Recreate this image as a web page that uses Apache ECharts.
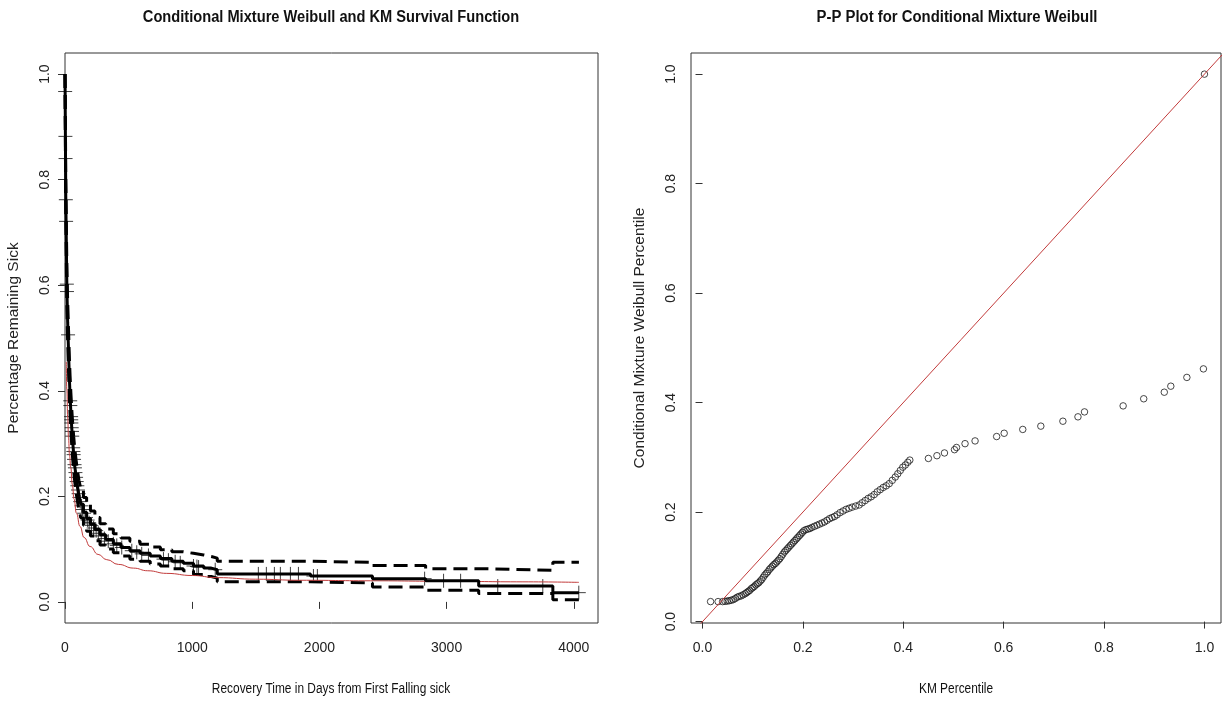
<!DOCTYPE html>
<html>
<head>
<meta charset="utf-8">
<title>Conditional Mixture Weibull</title>
<script src="https://cdn.jsdelivr.net/npm/echarts@6/dist/echarts.min.js"></script>
<style>
  html, body { margin: 0; padding: 0; background: #fff; }
  #main { width: 1226px; height: 704px; }
</style>
</head>
<body>
<div id="main"></div>
<script>
// KM estimate (value holds until the next time)
var kmTime  = [0, 1, 2, 3, 4, 5, 6, 8, 10, 12, 14, 17, 21, 26, 31, 35, 40, 46, 53, 60, 68, 77, 87, 98, 110, 125, 145, 170, 200, 235, 275, 320, 380, 440, 510, 590, 670, 750, 840, 930, 1010, 1090, 1150, 1197, 1930, 2417, 2835, 3252, 3835, 4040];
var kmSurv  = [1, 0.97, 0.93, 0.89, 0.85, 0.81, 0.77, 0.73, 0.69, 0.65, 0.61, 0.57, 0.53, 0.49, 0.45, 0.42, 0.39, 0.36, 0.33, 0.305, 0.28, 0.257, 0.237, 0.218, 0.2, 0.185, 0.17, 0.158, 0.147, 0.137, 0.127, 0.118, 0.11, 0.103, 0.097, 0.092, 0.087, 0.082, 0.077, 0.073, 0.068, 0.064, 0.061, 0.053, 0.049, 0.044, 0.04, 0.03, 0.0175, 0.0175];
var kmUpper = [1, 0.985, 0.952, 0.916, 0.88, 0.842, 0.804, 0.766, 0.727, 0.688, 0.649, 0.61, 0.57, 0.53, 0.49, 0.459, 0.428, 0.397, 0.366, 0.34, 0.314, 0.29, 0.269, 0.249, 0.23, 0.214, 0.198, 0.185, 0.172, 0.16, 0.148, 0.138, 0.129, 0.121, 0.115, 0.109, 0.104, 0.099, 0.095, 0.092, 0.089, 0.086, 0.083, 0.077, 0.075, 0.069, 0.063, 0.06, 0.075, 0.075];
var kmLower = [1, 0.953, 0.906, 0.862, 0.82, 0.778, 0.736, 0.694, 0.653, 0.612, 0.571, 0.531, 0.491, 0.451, 0.412, 0.383, 0.354, 0.325, 0.296, 0.272, 0.249, 0.227, 0.208, 0.19, 0.173, 0.159, 0.145, 0.134, 0.125, 0.116, 0.108, 0.1, 0.093, 0.087, 0.081, 0.077, 0.072, 0.068, 0.063, 0.059, 0.052, 0.048, 0.045, 0.038, 0.036, 0.028, 0.022, 0.016, 0.004, 0.004];

// censored times (+ marks on the KM curve)
var censorTime = [1.2, 3.2, 4.3, 6.5, 8.5, 14.5, 15.5, 24, 41, 42, 48, 49, 50, 53, 55, 57, 64, 66, 68, 71, 75, 78, 82, 87, 92, 97, 102, 107, 113, 120, 130, 137, 150, 165, 178, 190, 208, 225, 245, 262, 285, 310, 340, 380, 407, 446, 525, 564, 603, 656, 774, 813, 866, 906, 1010, 1037, 1050, 1181, 1520, 1583, 1646, 1693, 1772, 1835, 1953, 1984, 2827, 2976, 3110, 3402, 3756, 4039];
var censorSurv = [0.967, 0.882, 0.84, 0.762, 0.721, 0.602, 0.588, 0.506, 0.381, 0.372, 0.351, 0.345, 0.339, 0.33, 0.323, 0.314, 0.292, 0.285, 0.279, 0.27, 0.26, 0.254, 0.245, 0.236, 0.228, 0.22, 0.212, 0.205, 0.198, 0.19, 0.182, 0.175, 0.168, 0.16, 0.155, 0.15, 0.145, 0.14, 0.135, 0.13, 0.125, 0.12, 0.115, 0.11, 0.107, 0.103, 0.097, 0.094, 0.091, 0.088, 0.081, 0.079, 0.076, 0.074, 0.068, 0.067, 0.066, 0.061, 0.053, 0.053, 0.053, 0.053, 0.053, 0.053, 0.049, 0.049, 0.044, 0.04, 0.04, 0.03, 0.03, 0.0175];

// fitted conditional mixture weibull survival (red)
var fitTime = [10, 15, 21, 28, 35, 45, 58, 71, 90, 118, 150, 197, 260, 328, 420, 538, 650, 800, 1000, 1194, 1500, 1850, 2400, 3000, 3600, 4040];
var fitSurv = [0.455, 0.4, 0.35, 0.31, 0.28, 0.255, 0.222, 0.195, 0.168, 0.143, 0.122, 0.105, 0.09, 0.08, 0.071, 0.064, 0.059, 0.054, 0.05, 0.046, 0.043, 0.041, 0.04, 0.039, 0.038, 0.037];

// P-P plot: KM percentile vs model percentile
var ppKM  = [0.016, 0.031, 0.040, 0.045, 0.049, 0.053, 0.057, 0.061, 0.065, 0.069, 0.073, 0.077, 0.081, 0.085, 0.088, 0.091, 0.094, 0.097, 0.100, 0.103, 0.106, 0.109, 0.112, 0.115, 0.118, 0.121, 0.124, 0.127, 0.130, 0.133, 0.136, 0.139, 0.142, 0.145, 0.148, 0.151, 0.154, 0.157, 0.160, 0.163, 0.166, 0.169, 0.172, 0.175, 0.178, 0.181, 0.184, 0.187, 0.190, 0.193, 0.196, 0.199, 0.202, 0.206, 0.210, 0.214, 0.218, 0.223, 0.228, 0.233, 0.238, 0.243, 0.248, 0.253, 0.258, 0.263, 0.268, 0.274, 0.280, 0.286, 0.292, 0.298, 0.305, 0.312, 0.318, 0.324, 0.330, 0.336, 0.342, 0.348, 0.354, 0.360, 0.366, 0.372, 0.378, 0.384, 0.389, 0.394, 0.399, 0.404, 0.409, 0.413, 0.450, 0.467, 0.482, 0.502, 0.506, 0.523, 0.543, 0.586, 0.601, 0.638, 0.674, 0.718, 0.748, 0.761, 0.838, 0.879, 0.920, 0.933, 0.965, 0.998, 1.0];
var ppFit = [0.0365, 0.0365, 0.0365, 0.037, 0.0375, 0.038, 0.039, 0.040, 0.042, 0.0445, 0.046, 0.047, 0.049, 0.051, 0.053, 0.055, 0.057, 0.060, 0.062, 0.064, 0.067, 0.069, 0.071, 0.074, 0.077, 0.081, 0.085, 0.088, 0.091, 0.095, 0.098, 0.101, 0.104, 0.106, 0.109, 0.112, 0.115, 0.119, 0.123, 0.127, 0.130, 0.133, 0.136, 0.139, 0.142, 0.145, 0.148, 0.151, 0.154, 0.157, 0.160, 0.163, 0.166, 0.168, 0.169, 0.170, 0.172, 0.174, 0.176, 0.178, 0.180, 0.182, 0.185, 0.188, 0.190, 0.192, 0.195, 0.199, 0.202, 0.205, 0.207, 0.209, 0.211, 0.213, 0.217, 0.221, 0.225, 0.228, 0.232, 0.237, 0.241, 0.245, 0.248, 0.252, 0.258, 0.264, 0.270, 0.276, 0.282, 0.286, 0.291, 0.295, 0.298, 0.303, 0.308, 0.314, 0.318, 0.325, 0.330, 0.338, 0.344, 0.351, 0.357, 0.366, 0.374, 0.383, 0.394, 0.407, 0.419, 0.430, 0.446, 0.4616, 1.0];

// y = x reference line (clipped by the plot box)
var refLine = [-0.1, 1.1];

var timeTicks = [0, 1000, 2000, 3000, 4000];
var probTicks = [0, 0.2, 0.4, 0.6, 0.8, 1];

var FONT = '"Liberation Sans", Arial, sans-serif';
var RED = '#c23b3b';

function zip(xs, ys) {
  var out = [];
  for (var i = 0; i < xs.length; i++) out.push([xs[i], ys[i]]);
  return out;
}

function fmt1(v) {
  return (+v).toFixed(1);
}

// the R device looks horizontally squeezed, so flat text is drawn a bit narrow
function flatText(x, y, text, size, weight, sx) {
  return {
    type: 'text', x: x, y: y, scaleX: sx, scaleY: 1,
    style: {
      text: text, fontFamily: FONT, fontSize: size, fontWeight: weight,
      fill: '#111', align: 'center', verticalAlign: 'middle'
    }
  };
}

// R-like axis: ticks outside, no split lines, labels only at the given values
function rAxis(grid, min, max, ticks, isY, labelFmt, name) {
  return {
    gridIndex: grid,
    type: 'value',
    min: min,
    max: max,
    name: name || '',
    nameLocation: 'middle',
    nameGap: 43,
    nameRotate: 90,
    nameTextStyle: { fontFamily: FONT, fontSize: 15.5, color: '#222' },
    axisLine: { show: false },
    splitLine: { show: false },
    axisTick: {
      show: true,
      length: 7,
      customValues: ticks,
      lineStyle: { color: '#333', width: 1 }
    },
    axisLabel: {
      customValues: ticks,
      formatter: labelFmt,
      rotate: isY ? 90 : 0,
      margin: isY ? 13 : 18,
      fontFamily: FONT,
      fontSize: 14,
      color: '#222'
    }
  };
}

function getOption() {
  var option = {
    backgroundColor: '#fff',
    animation: false,
    graphic: [
      flatText(331, 18, 'Conditional Mixture Weibull and KM Survival Function', 16, 'bold', 0.915),
      flatText(957, 18, 'P-P Plot for Conditional Mixture Weibull', 16, 'bold', 0.93),
      flatText(331, 689, 'Recovery Time in Days from First Falling sick', 14, 'normal', 0.85),
      flatText(956, 689, 'KM Percentile', 14, 'normal', 0.85)
    ],
    grid: [
      { left: 65, top: 53, width: 533, height: 570, show: true, borderColor: '#333', borderWidth: 1 },
      { left: 691, top: 53, width: 530, height: 570, show: true, borderColor: '#333', borderWidth: 1 }
    ],
    xAxis: [
      rAxis(0, 0, 4190, timeTicks, false, function (v) { return String(v); }),
      rAxis(1, -0.023, 1.033, probTicks, false, fmt1)
    ],
    yAxis: [
      rAxis(0, -0.04, 1.04, probTicks, true, fmt1, 'Percentage Remaining Sick'),
      rAxis(1, -0.0026, 1.0386, probTicks, true, fmt1, 'Conditional Mixture Weibull Percentile')
    ],
    series: [{
      name: 'upper',
      type: 'line', xAxisIndex: 0, yAxisIndex: 0,
      step: 'end', symbol: 'none',
      lineStyle: { color: '#000', width: 3, type: [14, 7] },
      data: zip(kmTime, kmUpper)
    }, {
      name: 'lower',
      type: 'line', xAxisIndex: 0, yAxisIndex: 0,
      step: 'end', symbol: 'none',
      lineStyle: { color: '#000', width: 3, type: [14, 7] },
      data: zip(kmTime, kmLower)
    }, {
      name: 'weibull',
      type: 'line', xAxisIndex: 0, yAxisIndex: 0,
      smooth: true, smoothMonotone: 'x', symbol: 'none',
      lineStyle: { color: RED, width: 1 },
      data: zip(fitTime, fitSurv)
    }, {
      name: 'KM',
      type: 'line', xAxisIndex: 0, yAxisIndex: 0,
      step: 'end', symbol: 'none',
      lineStyle: { color: '#000', width: 3 },
      data: zip(kmTime, kmSurv)
    }, {
      name: 'censored',
      type: 'scatter', xAxisIndex: 0, yAxisIndex: 0,
      symbol: 'path://M0,7L14,7M7,0L7,14',
      symbolSize: 14,
      itemStyle: { color: 'transparent', borderColor: '#111', borderWidth: 1 },
      data: zip(censorTime, censorSurv)
    }, {
      name: 'y=x',
      type: 'line', xAxisIndex: 1, yAxisIndex: 1,
      symbol: 'none',
      lineStyle: { color: RED, width: 1 },
      data: zip(refLine, refLine)
    }, {
      name: 'pp',
      type: 'scatter', xAxisIndex: 1, yAxisIndex: 1,
      symbol: 'circle', symbolSize: 6.5,
      itemStyle: { color: 'rgba(0,0,0,0)', borderColor: '#1a1a1a', borderWidth: 1 },
      data: zip(ppKM, ppFit)
    }]
  };
  return option;
}

var chart = echarts.init(document.getElementById('main'));
chart.setOption(getOption());
</script>
</body>
</html>
